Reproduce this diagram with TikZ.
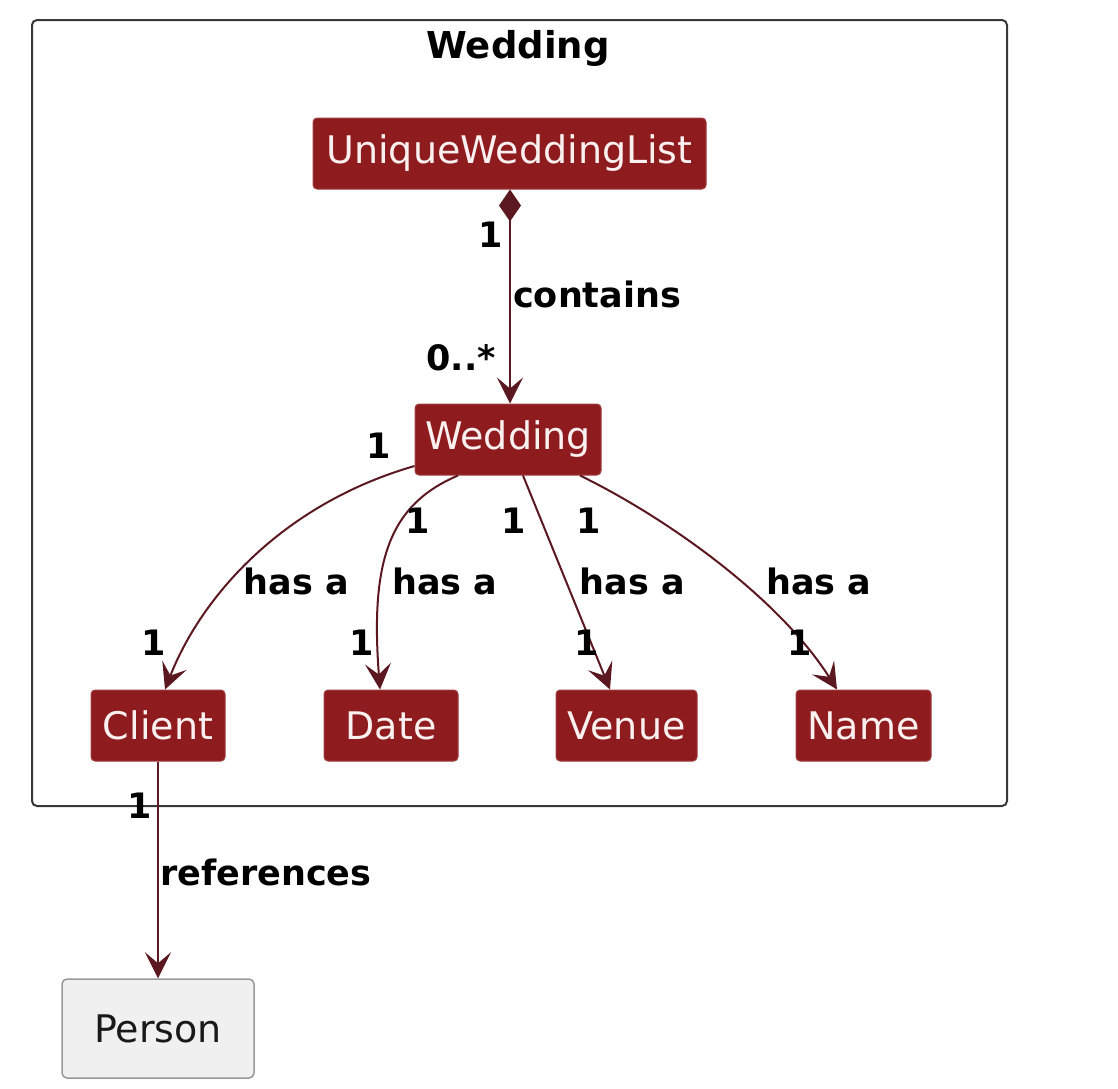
\documentclass[tikz,border=0pt]{standalone}
\usepackage{fontspec}
\setmainfont{DejaVu Sans}
\usetikzlibrary{arrows.meta}
\definecolor{boxred}{HTML}{8E1B1E}
\definecolor{edgec}{HTML}{5C1820}
\definecolor{boxtxt}{HTML}{FBF0F0}
\definecolor{framec}{HTML}{383838}
\begin{document}
\begin{tikzpicture}[x=1pt,y=-1pt,
  cls/.style={draw=boxred!85!white, fill=boxred, rounded corners=4pt, line width=1pt,
    text=boxtxt, font=\fontsize{38}{44}\selectfont, minimum height=71pt, inner sep=0pt},
  plainbox/.style={draw=black!40, fill=black!6, rounded corners=5pt, line width=1.5pt,
    text=black!90, font=\fontsize{38}{44}\selectfont, minimum height=99pt, minimum width=192pt, inner sep=0pt},
  pkgframe/.style={draw=framec, rounded corners=5pt, line width=2pt, inner sep=0pt},
  lbl/.style={font=\bfseries\fontsize{35}{40}\selectfont, text=black, inner sep=0pt, anchor=base},
  assoc/.style={draw=edgec, line width=2pt, -{Stealth[length=26pt,width=26pt,inset=11pt]}},
  comp/.style={draw=edgec, line width=2pt, {Diamond[length=32pt,width=22pt,fill=edgec]}-{Stealth[length=26pt,width=26pt,inset=11pt]}}
]
\useasboundingbox (0,0) rectangle (1118,1088);
\node[pkgframe, minimum width=975pt, minimum height=786pt] (pkg) at (519.5,413) {};
\node[lbl, font=\bfseries\fontsize{37}{42}\selectfont] (title) at (518,58) {Wedding};

\node[cls, minimum width=393pt] (uwl) at (509.5,153.5) {UniqueWeddingList};
\node[cls, minimum width=186pt] (wed) at (508,439.5) {Wedding};
\node[cls, minimum width=134pt] (client) at (158,725.5) {Client};
\node[cls, minimum width=134pt] (date) at (391,725.5) {Date};
\node[cls, minimum width=141pt] (venue) at (626.5,725.5) {Venue};
\node[cls, minimum width=135pt] (name) at (863.5,725.5) {Name};
\node[plainbox] (person) at (158,1028.5) {Person};

% composition
\draw[comp] ([xshift=0.5pt]uwl.south) -- ([xshift=2pt]wed.north);
\node[lbl] (m1) at (491,247) {1};
\node[lbl, anchor=base west] (lcontains) at (513,307) {contains};
\node[lbl, anchor=base east] (m2) at (496,370) {0..*};

% client
\draw[assoc] ([yshift=-26.5pt]wed.west) .. controls +(-135,39) and +(35,-90) .. ([xshift=7pt]client.north);
\node[lbl] (m3) at (379,458) {1};
\node[lbl] (l1) at (296.5,594) {has a};
\node[lbl] (m4) at (153.5,655) {1};

% date
\draw[assoc] ([xshift=-50pt]wed.south) .. controls +(-68,29) and +(-10,-130) .. ([xshift=-11pt]date.north);
\node[lbl] (m5) at (418,533) {1};
\node[lbl] (l2) at (445,594) {has a};
\node[lbl] (m6) at (362,655) {1};

% venue
\draw[assoc] ([xshift=15pt]wed.south) -- ([xshift=-16.5pt]venue.north);
\node[lbl] (m7) at (514,533) {1};
\node[lbl] (l3) at (632.5,594) {has a};
\node[lbl] (m8) at (587,655) {1};

% name
\draw[assoc] ([xshift=72pt]wed.south) .. controls +(90,44) and +(-57,-90) .. ([xshift=-26.5pt]name.north);
\node[lbl] (m9) at (589,533) {1};
\node[lbl] (l4) at (819,594) {has a};
\node[lbl] (m10) at (800,655) {1};

% references
\draw[assoc] (client.south) -- (person.north);
\node[lbl] (m11) at (140,818) {1};
\node[lbl, anchor=base west] (lref) at (160,885) {references};
\end{tikzpicture}
\end{document}
